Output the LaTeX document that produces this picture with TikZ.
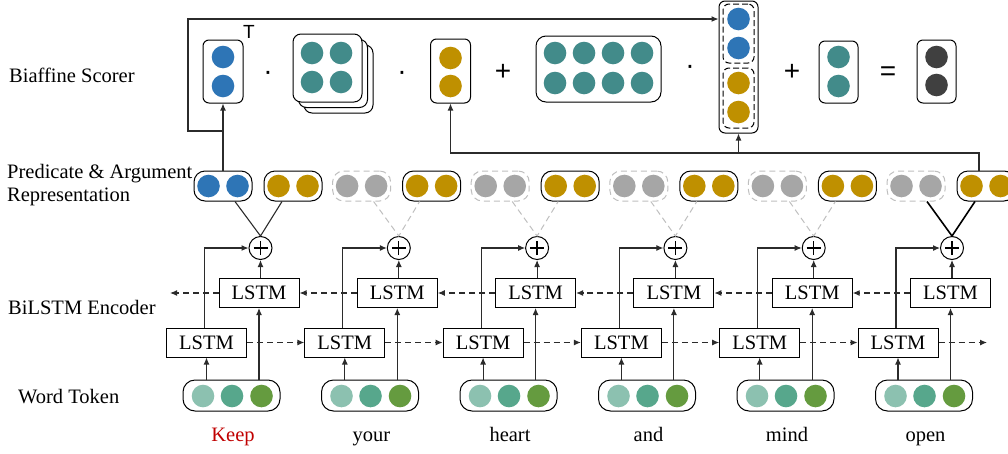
\documentclass[tikz,border=0pt]{standalone}
\usepackage{fontspec}
\setmainfont{Liberation Serif}
\newfontfamily\symf{Liberation Sans}
\usetikzlibrary{arrows.meta}
\definecolor{lc}{HTML}{2B2B2B}
\definecolor{cblue}{HTML}{2E75B6}
\definecolor{cgold}{HTML}{BF9000}
\definecolor{cteal}{HTML}{428B8A}
\definecolor{cgray}{HTML}{A6A6A6}
\definecolor{cdash}{HTML}{BFBFBF}
\definecolor{cdark}{HTML}{404040}
\definecolor{wa}{HTML}{8CC1B0}
\definecolor{wb}{HTML}{57A78C}
\definecolor{wc}{HTML}{659B3F}
\definecolor{cred}{HTML}{C00000}
\tikzset{
  ln/.style={draw=lc, line width=1.1pt},
  arr/.style={draw=lc, line width=1.1pt, -{Latex[length=7pt,width=6pt]}},
  darr/.style={arr, dash pattern=on 6pt off 4pt},
  lstm/.style={draw=black, line width=1pt, minimum width=80pt, minimum height=29pt, inner sep=0, font=\fontsize{20.5}{24}\selectfont},
  tokbox/.style={draw=black, line width=1pt, rounded corners=12pt, minimum width=97pt, minimum height=31pt, inner sep=0},
  repbox/.style={draw=black, line width=1pt, rounded corners=11pt, minimum width=58pt, minimum height=30pt, inner sep=0},
  repdash/.style={draw=cdash, dash pattern=on 6pt off 4pt, line width=1pt, rounded corners=11pt, minimum width=58pt, minimum height=30pt, inner sep=0},
  vecbox/.style={draw=black, fill=white, line width=1pt, rounded corners=6pt, minimum width=40pt, minimum height=63pt, inner sep=0},
  oplus/.style={circle, draw=black, line width=1pt, minimum size=23pt, inner sep=0,
    path picture={\draw[line width=1.3pt] ([xshift=-7pt]path picture bounding box.center) -- ([xshift=7pt]path picture bounding box.center)
      ([yshift=-7pt]path picture bounding box.center) -- ([yshift=7pt]path picture bounding box.center);}},
  lab/.style={font=\fontsize{20.5}{24}\selectfont, anchor=base west, inner sep=0},
  wordlab/.style={font=\fontsize{20.5}{24}\selectfont, anchor=base, inner sep=0},
  sym/.style={font=\symf\fontsize{28}{28}\selectfont, anchor=base, inner sep=0}
}
\begin{document}
\begin{tikzpicture}[x=1pt,y=-1pt]
\useasboundingbox (0,0) rectangle (1008,453);
\clip (0,0) rectangle (1008,453);

% ---------- row labels ----------
\node[lab] (lbs) at (9,82) {Biaffine Scorer};
\node[lab] (lpa) at (7,178) {Predicate \& Argument};
\node[lab] (lre) at (7,201) {Representation};
\node[lab] (lbi) at (8,314) {BiLSTM Encoder};
\node[lab] (lwt) at (18,403) {Word Token};

% ---------- columns ----------
\foreach \i in {1,...,6} {
  \pgfmathsetmacro{\wx}{231.5+138.5*(\i-1)}
  \pgfmathsetmacro{\fx}{206.5+138.3*(\i-1)}
  \pgfmathsetmacro{\bx}{259+138.3*(\i-1)}
  \node[tokbox] (w\i) at (\wx,395.5) {};
  \fill[wa] (\wx-28.5,396) circle (11.3pt);
  \fill[wb] (\wx+0.5,396) circle (11.3pt);
  \fill[wc] (\wx+30,396) circle (11.3pt);
  \node[lstm] (f\i) at (\fx,342.5) {LSTM};
  \node[lstm] (b\i) at (\bx,293) {LSTM};
  \node[oplus] (p\i) at (\bx+1.5,248) {};
  \draw[arr] (w\i.north -| f\i) -- (f\i.south);
  \draw[arr] (w\i.north -| b\i) -- (b\i.south);
  \draw[arr] (b\i.north -| p\i) -- (p\i.south);
  \draw[arr] ([xshift=-2pt]f\i.north) |- (p\i.west);
}
% recurrent dashed arrows
\foreach \i/\j in {1/2,2/3,3/4,4/5,5/6} {
  \draw[darr] (f\i.east) -- (f\j.west);
  \draw[darr] (b\j.west) -- (b\i.east);
}
\coordinate (fend) at (987,342.5);
\coordinate (bend) at (170,293);
\draw[darr] (f6.east) -- (fend);
\draw[darr] (b1.west) -- (bend);

% words
\foreach \i/\t in {1/{\color{cred}Keep},2/your,3/heart,4/and,5/mind,6/open} {
  \pgfmathsetmacro{\wx}{233+138.5*(\i-1)}
  \node[wordlab] (t\i) at (\wx,441) {\t};
}

% ---------- representations ----------
\foreach \i in {1,...,6} {
  \pgfmathsetmacro{\rx}{293+138.6*(\i-1)}
  \node[repbox] (r\i) at (\rx,186) {};
  \fill[cgold] (\rx-14.5,186) circle (11.3pt);
  \fill[cgold] (\rx+14.5,186) circle (11.3pt);
}
\node[repbox] (l1) at (223,186) {};
\fill[cblue] (208.5,186) circle (11.3pt);
\fill[cblue] (237.5,186) circle (11.3pt);
\foreach \i in {2,...,6} {
  \pgfmathsetmacro{\lx}{223+138.6*(\i-1)}
  \node[repdash] (l\i) at (\lx,186) {};
  \fill[cgray] (\lx-14.5,186) circle (11.3pt);
  \fill[cgray] (\lx+14.5,186) circle (11.3pt);
}
% rep -> oplus
\draw[lc, line width=1.1pt] ([xshift=12pt]l1.south) -- (p1.north) -- ([xshift=-11pt]r1.south);
\foreach \i in {2,...,5} {
  \draw[cdash, line width=1pt, dash pattern=on 6pt off 4pt] ([xshift=12pt]l\i.south) -- (p\i.north) -- ([xshift=-12pt]r\i.south);
}
\draw[black, line width=1.6pt] ([xshift=11pt]l6.south) -- (p6.north) -- ([xshift=-11pt]r6.south);

% ---------- biaffine scorer ----------
\node[vecbox] (bv) at (223,71.5) {};
\fill[cblue] (223,57) circle (11.3pt);
\fill[cblue] (223,86) circle (11.3pt);
\node[font=\symf\fontsize{19}{19}\selectfont, anchor=base, inner sep=0] (tt) at (249,38) {T};
\node[sym] (s1) at (268,80.5) {·};

\node[vecbox, minimum width=69pt, minimum height=68pt, rounded corners=8pt] (wm3) at (338.5,79) {};
\node[vecbox, minimum width=69pt, minimum height=68pt, rounded corners=8pt] (wm2) at (333,73.5) {};
\node[vecbox, minimum width=69pt, minimum height=68pt, rounded corners=8pt] (wm) at (327.5,68) {};
\foreach \x in {312,341} \foreach \y in {53,82} \fill[cteal] (\x,\y) circle (11.3pt);

\node[sym] (s2) at (402,80.5) {·};

\node[vecbox, minimum height=64pt] (gv) at (450.5,71) {};
\fill[cgold] (450.5,58) circle (11.3pt);
\fill[cgold] (450.5,86) circle (11.3pt);

\node[sym] (s3) at (503,80.5) {+};

\node[vecbox, minimum width=125pt, minimum height=66pt, rounded corners=10pt] (ub) at (598.5,69) {};
\foreach \x in {555,584,613,642} \foreach \y in {53,83} \fill[cteal] (\x,\y) circle (11.3pt);

\node[sym] (s4) at (690,74.5) {·};

\node[vecbox, minimum width=39pt, minimum height=132pt] (cat) at (738.5,67) {};
\node[vecbox, minimum width=31pt, minimum height=59pt, dash pattern=on 6pt off 3pt] (ctop) at (738.5,33.5) {};
\node[vecbox, minimum width=31pt, minimum height=60pt, dash pattern=on 6pt off 3pt] (cbot) at (738.5,98) {};
\fill[cblue] (738.5,19) circle (11.3pt);
\fill[cblue] (738.5,48) circle (11.3pt);
\fill[cgold] (738.5,83) circle (11.3pt);
\fill[cgold] (738.5,112) circle (11.3pt);

\node[sym] (s5) at (792,80.5) {+};

\node[vecbox, minimum width=39pt, minimum height=62pt] (bias) at (838.5,72) {};
\fill[cteal] (838.5,57) circle (11.3pt);
\fill[cteal] (838.5,86) circle (11.3pt);

\node[sym] (s6) at (888,80.5) {=};

\node[vecbox, minimum width=39pt, minimum height=63pt] (out) at (936.5,71.5) {};
\fill[cdark] (936.5,57) circle (11.3pt);
\fill[cdark] (936.5,85) circle (11.3pt);

% ---------- connectors to scorer ----------
\draw[arr] (l1.north) -- (bv.south);
\coordinate (j1) at (223,131);
\coordinate (k1) at (188,131);
\coordinate (ct) at (738.5,19);
\draw[arr] (j1) -- (k1) |- (cat.west |- ct);

\coordinate (j2) at (738.5,153);
\draw[arr] ([xshift=-7pt]r6.north) |- (gv.south |- j2) -- (gv.south);
\draw[arr] (j2) -- (cat.south);
\end{tikzpicture}
\end{document}
